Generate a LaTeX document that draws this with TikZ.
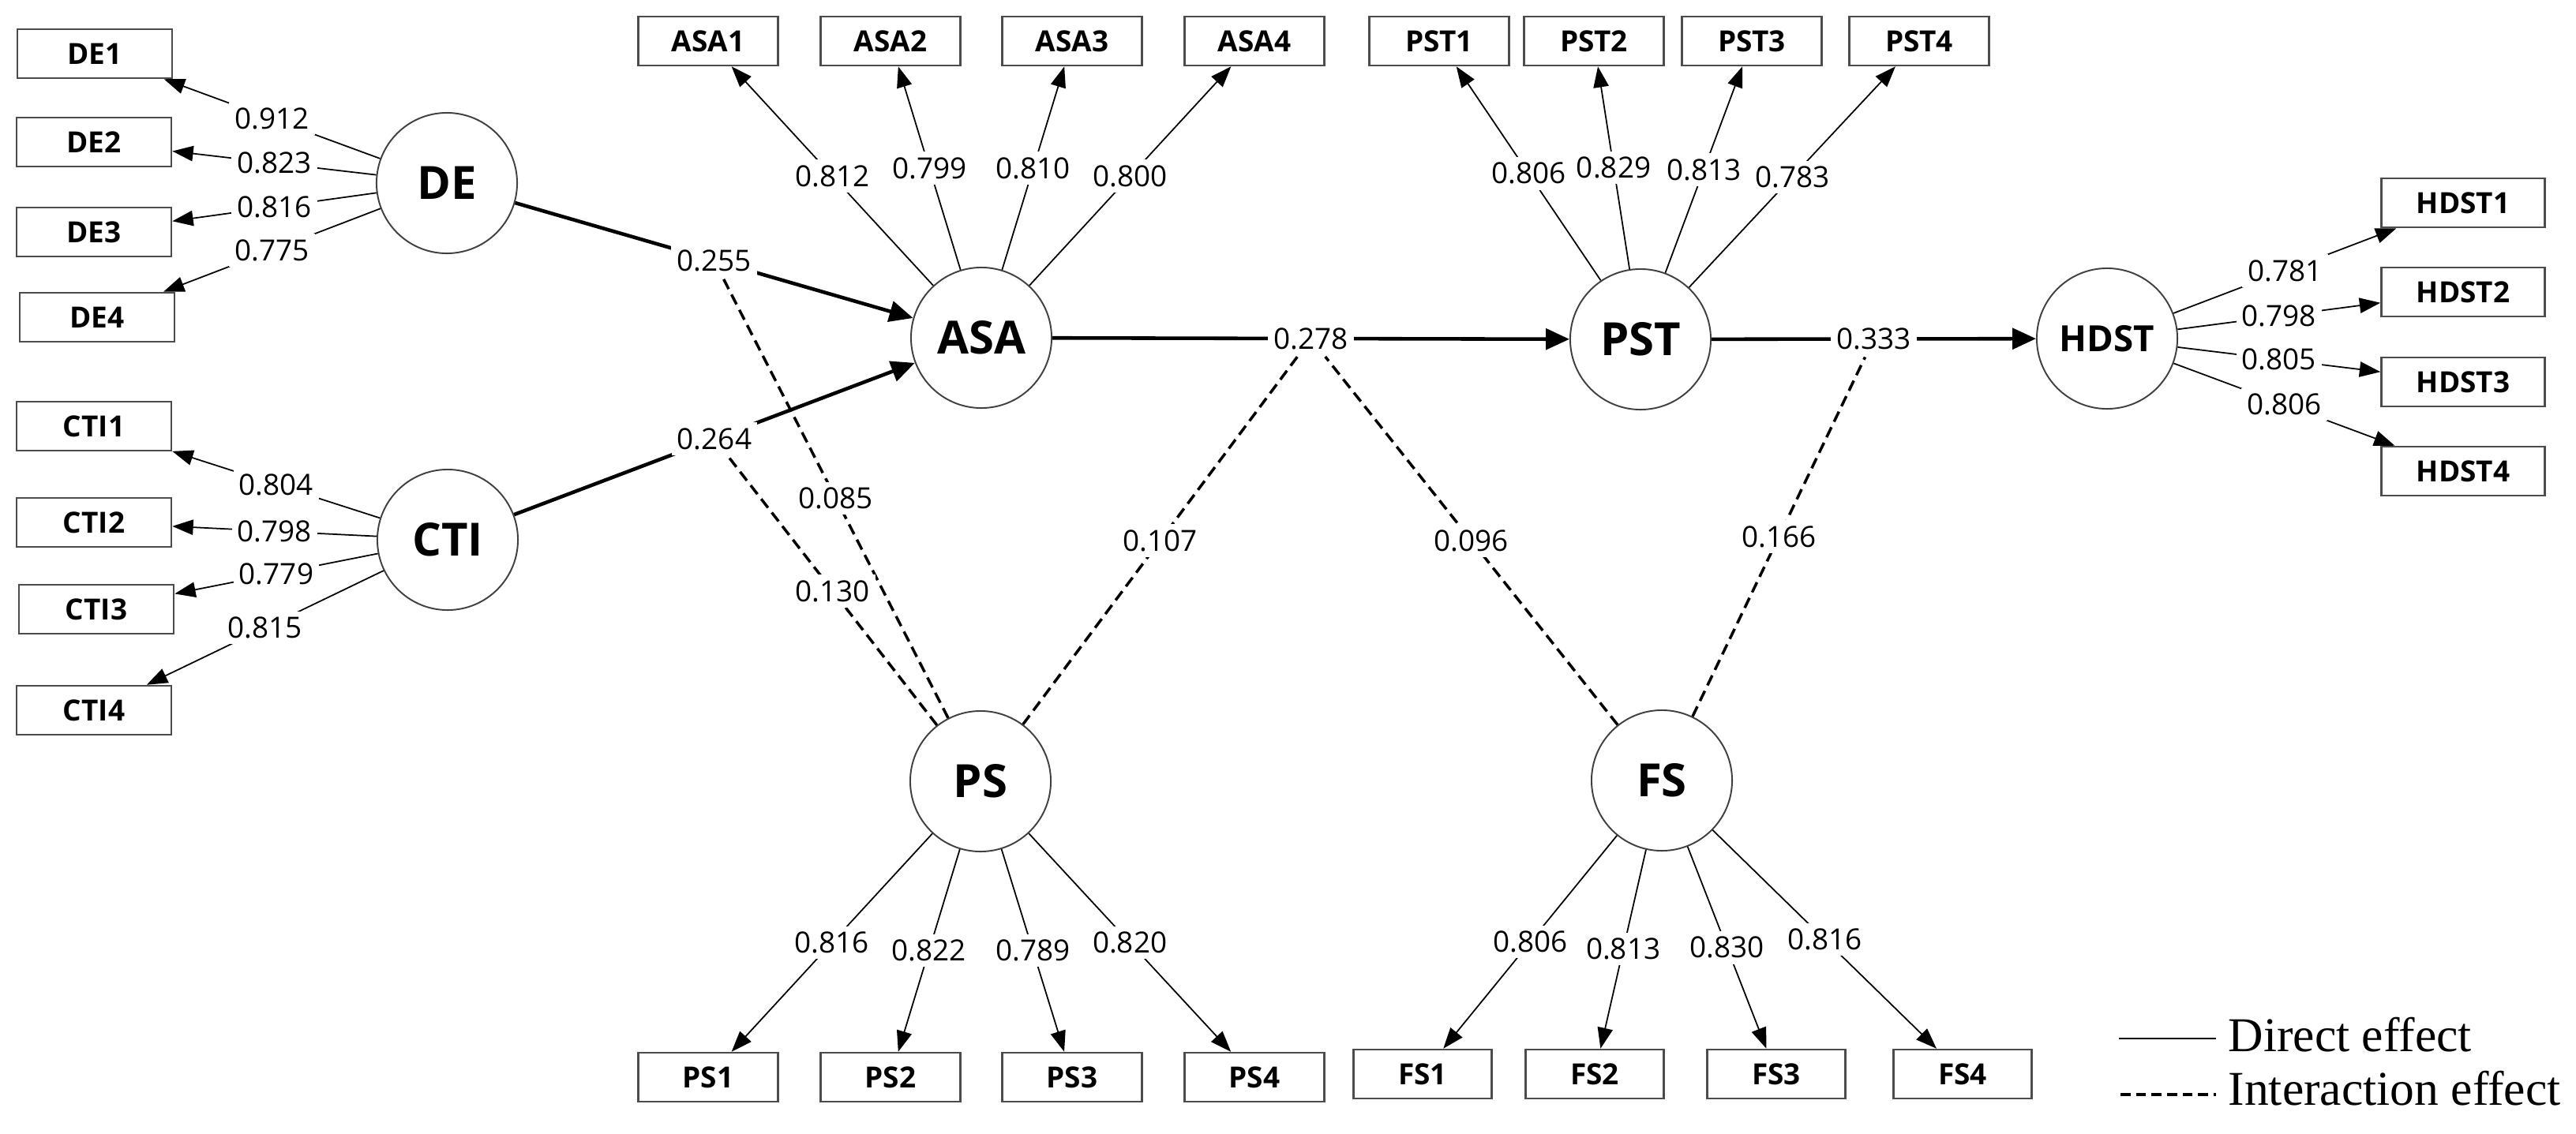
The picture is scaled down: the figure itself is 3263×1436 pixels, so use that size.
\documentclass[tikz,border=0pt]{standalone}
\usepackage{fontspec}
\setmainfont{Open Sans}
\newfontfamily\legendfont{Liberation Serif}
\usetikzlibrary{arrows.meta}
\begin{document}
\begin{tikzpicture}[x=0.01cm,y=-0.01cm,
  lat/.style={circle, draw=black!75, line width=0.55pt, fill=white, minimum size=1.78cm, inner sep=0pt, font=\fontsize{16.5}{16.5}\selectfont\bfseries},
  ind/.style={rectangle, draw=black!70, line width=0.7pt, fill=white, minimum width=1.77cm, minimum height=0.62cm, inner sep=0pt, font=\fontsize{10.5}{10.5}\selectfont\bfseries},
  lbl/.style={fill=white, inner sep=2pt, font=\fontsize{10.5}{10.5}\selectfont},
  load/.style={line width=0.5pt, -{Triangle[length=7.5pt,width=5.5pt]}},
  direct/.style={line width=1.3pt, -{Triangle[length=8.5pt,width=7.5pt]}},
  inter/.style={line width=1pt, dash pattern=on 4pt off 2.2pt},
]
\useasboundingbox (0,0) rectangle (3263,1436);

% latent variables
\node[lat] (DE) at (566,232) {DE};
\node[lat] (CTI) at (567,684) {CTI};
\node[lat] (ASA) at (1243,428) {ASA};
\node[lat] (PST) at (2078,430) {PST};
\node[lat, font=\fontsize{13}{13}\selectfont\bfseries] (HDST) at (2669,429) {HDST};
\node[lat] (PS) at (1242,990) {PS};
\node[lat] (FS) at (2105,989) {FS};

% indicators
\begin{scope}[every node/.style={ind, minimum width=1.96cm}]
\node (DE1) at (120,68) {DE1};
\node (DE2) at (119,180) {DE2};
\node (DE3) at (119,294) {DE3};
\node (DE4) at (123,402) {DE4};
\node (CTI1) at (119,540) {CTI1};
\node (CTI2) at (119,662) {CTI2};
\node (CTI3) at (122,772) {CTI3};
\node (CTI4) at (119,900) {CTI4};
\end{scope}
\begin{scope}[every node/.style={ind}]
\node (ASA1) at (897,52) {ASA1};
\node (ASA2) at (1128,52) {ASA2};
\node (ASA3) at (1358,52) {ASA3};
\node (ASA4) at (1589,52) {ASA4};
\node (PST1) at (1823,52) {PST1};
\node (PST2) at (2019,52) {PST2};
\node (PST3) at (2219,52) {PST3};
\node (PST4) at (2431,52) {PST4};
\node (PS1) at (897,1365) {PS1};
\node (PS2) at (1128,1365) {PS2};
\node (PS3) at (1358,1365) {PS3};
\node (PS4) at (1589,1365) {PS4};
\node[minimum width=1.75cm] (FS1) at (1802,1361) {FS1};
\node[minimum width=1.75cm] (FS2) at (2020,1361) {FS2};
\node[minimum width=1.75cm] (FS3) at (2250,1361) {FS3};
\node[minimum width=1.75cm] (FS4) at (2486,1361) {FS4};
\end{scope}
\begin{scope}[every node/.style={ind, minimum width=2.07cm}]
\node (HDST1) at (3120,257) {HDST1};
\node (HDST2) at (3120,370) {HDST2};
\node (HDST3) at (3120,484) {HDST3};
\node (HDST4) at (3120,597) {HDST4};
\end{scope}

% loadings
\draw[load] (DE) -- node[lbl]{0.912} (DE1);
\draw[load] (DE) -- node[lbl]{0.823} (DE2);
\draw[load] (DE) -- node[lbl]{0.816} (DE3);
\draw[load] (DE) -- node[lbl]{0.775} (DE4);
\draw[load] (CTI) -- node[lbl]{0.804} (CTI1);
\draw[load] (CTI) -- node[lbl]{0.798} (CTI2);
\draw[load] (CTI) -- node[lbl]{0.779} (CTI3);
\draw[load] (CTI) -- node[lbl]{0.815} (CTI4);
\draw[load] (ASA) -- node[lbl]{0.812} (ASA1);
\draw[load] (ASA) -- node[lbl]{0.799} (ASA2);
\draw[load] (ASA) -- node[lbl]{0.810} (ASA3);
\draw[load] (ASA) -- node[lbl]{0.800} (ASA4);
\draw[load] (PST) -- node[lbl]{0.806} (PST1);
\draw[load] (PST) -- node[lbl]{0.829} (PST2);
\draw[load] (PST) -- node[lbl]{0.813} (PST3);
\draw[load] (PST) -- node[lbl]{0.783} (PST4);
\draw[load] (HDST) -- node[lbl]{0.781} (HDST1);
\draw[load] (HDST) -- node[lbl]{0.798} (HDST2);
\draw[load] (HDST) -- node[lbl]{0.805} (HDST3);
\draw[load] (HDST) -- node[lbl]{0.806} (HDST4);
\draw[load] (PS) -- node[lbl]{0.816} (PS1);
\draw[load] (PS) -- node[lbl]{0.822} (PS2);
\draw[load] (PS) -- node[lbl]{0.789} (PS3);
\draw[load] (PS) -- node[lbl]{0.820} (PS4);
\draw[load] (FS) -- node[lbl]{0.806} (FS1);
\draw[load] (FS) -- node[lbl]{0.813} (FS2);
\draw[load] (FS) -- node[lbl]{0.830} (FS3);
\draw[load] (FS) -- node[lbl]{0.816} (FS4);

% structural paths
\draw[direct] (DE) -- node[lbl] (l255) {0.255} (ASA);
\draw[direct] (CTI) -- node[lbl] (l264) {0.264} (ASA);
\draw[direct] (ASA) -- node[lbl] (l278) {0.278} (PST);
\draw[direct] (PST) -- node[lbl] (l333) {0.333} (HDST);

% interaction effects
\draw[inter] (PS) -- node[lbl]{0.085} (l255);
\draw[inter] (PS) -- node[lbl]{0.130} (l264);
\draw[inter] (PS) -- node[lbl]{0.107} (l278);
\draw[inter] (FS) -- node[lbl]{0.096} (l278);
\draw[inter] (FS) -- node[lbl]{0.166} (l333);

% legend
\coordinate (d1) at (2684,1316);
\coordinate (d2) at (2807,1316);
\coordinate (i1) at (2686,1387);
\coordinate (i2) at (2807,1387);
\draw[line width=0.7pt] (d1) -- (d2);
\draw[line width=1pt, dash pattern=on 3.6pt off 2pt] (i1) -- (i2);
\node[anchor=base west, inner sep=0pt, font=\legendfont\fontsize{17.5}{17.5}\selectfont] (ldir) at (2822,1332) {Direct effect};
\node[anchor=base west, inner sep=0pt, font=\legendfont\fontsize{17.5}{17.5}\selectfont] (lint) at (2822,1400) {Interaction effect};
\end{tikzpicture}
\end{document}
